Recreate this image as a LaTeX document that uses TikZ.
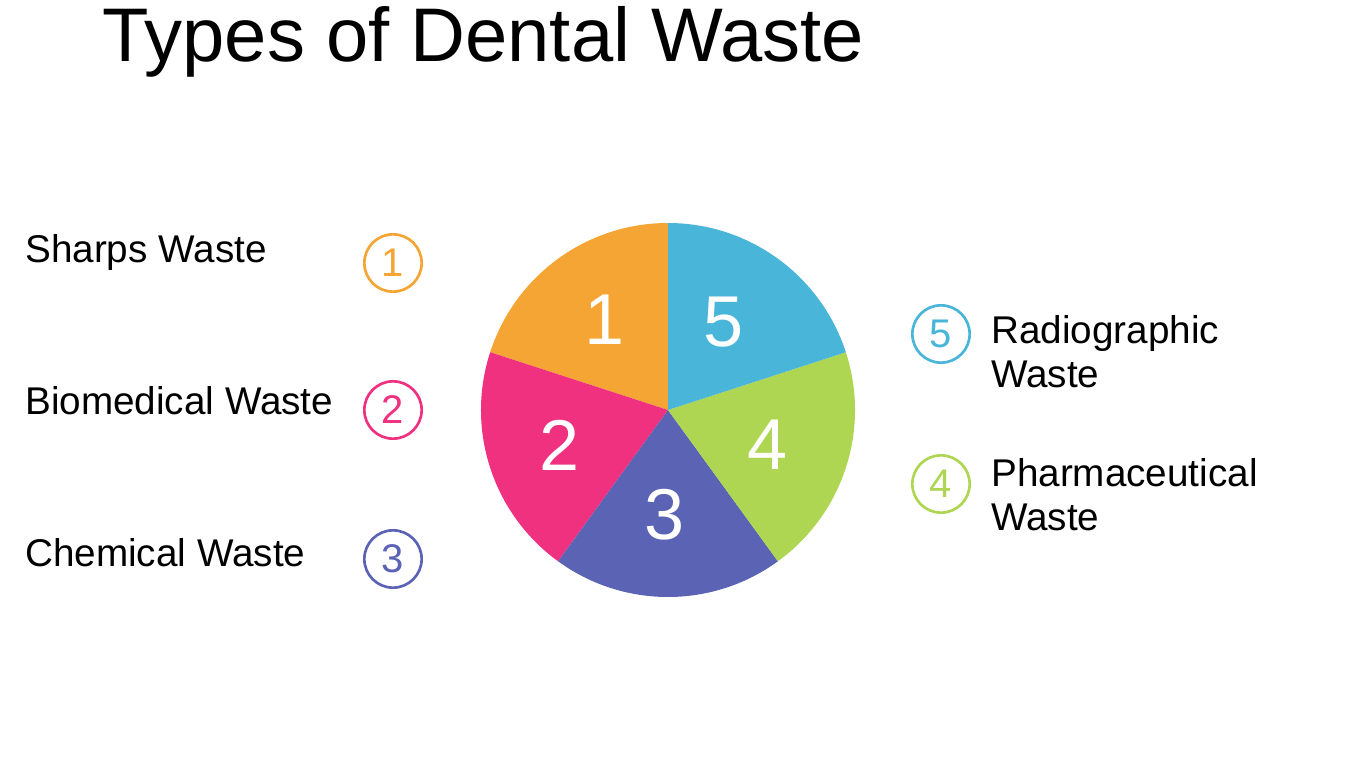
\documentclass[tikz,border=0pt]{standalone}
\usepackage{fontspec}
\setmainfont{Liberation Sans}
\definecolor{cO}{HTML}{F4A533}
\definecolor{cP}{HTML}{F0317F}
\definecolor{cB}{HTML}{5A63B4}
\definecolor{cG}{HTML}{AED652}
\definecolor{cC}{HTML}{49B6D9}
\begin{document}
\begin{tikzpicture}[x=0.75pt,y=-0.75pt,
  lbl/.style={anchor=west,font=\fontsize{29}{33}\selectfont,align=left,inner sep=0pt},
  num/.style={circle,draw=#1,line width=2pt,minimum size=43pt,inner sep=0pt,text=#1,font=\fontsize{30}{30}\selectfont},
  pnum/.style={text=white,font=\fontsize{54}{54}\selectfont}]
\useasboundingbox (0,0) rectangle (1350,759);
\node[anchor=west,inner sep=0pt,font=\fontsize{57}{60}\selectfont] (title) at (102,42) {Types of Dental Waste};
\coordinate (c) at (668,410);
\def\R{187}
\fill[cO] (c) -- ++(-90:\R) arc[start angle=-90,end angle=-162,radius=\R] -- cycle;
\fill[cP] (c) -- ++(-162:\R) arc[start angle=-162,end angle=-234,radius=\R] -- cycle;
\fill[cB] (c) -- ++(-234:\R) arc[start angle=-234,end angle=-306,radius=\R] -- cycle;
\fill[cG] (c) -- ++(-306:\R) arc[start angle=-306,end angle=-378,radius=\R] -- cycle;
\fill[cC] (c) -- ++(-18:\R) arc[start angle=-18,end angle=-90,radius=\R] -- cycle;
\node[pnum] (p1) at (605,320) {1};
\node[pnum] (p5) at (724,322) {5};
\node[pnum] (p2) at (560,445) {2};
\node[pnum] (p4) at (768,445) {4};
\node[pnum] (p3) at (665,515) {3};
\node[num=cO] (n1) at (393,263) {1};
\node[num=cP] (n2) at (393,410) {2};
\node[num=cB] (n3) at (393,559) {3};
\node[num=cC] (n5) at (941,334) {5};
\node[num=cG] (n4) at (941,484) {4};
\node[lbl] (l1) at (25,253) {Sharps Waste};
\node[lbl] (l2) at (25,401) {Biomedical Waste};
\node[lbl] (l3) at (25,553) {Chemical Waste};
\node[lbl] (l5) at (991,352) {Radiographic\\Waste};
\node[lbl] (l4) at (991,495) {Pharmaceutical\\Waste};
\end{tikzpicture}
\end{document}
